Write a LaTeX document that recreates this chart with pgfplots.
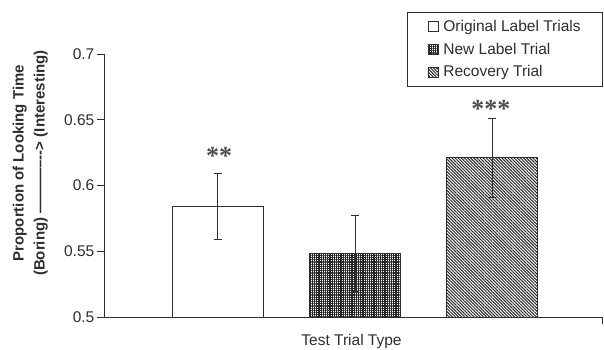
\documentclass[border=0pt]{standalone}
\usepackage{pgfplots}
\pgfplotsset{compat=1.18}
\usepackage{fontspec}
\setmainfont{Liberation Sans}
\newfontfamily\starfont{Liberation Serif}
\usetikzlibrary{patterns,patterns.meta}
\definecolor{ink}{HTML}{2E2E2E}
\begin{document}
\begin{tikzpicture}[x=1bp,y=1bp]
\path[use as bounding box] (-104bp,-33bp) rectangle (500bp,317bp);
\begin{axis}[
  scale only axis,
  width=498bp, height=263bp,
  xmin=0.17, xmax=3.80,
  ymin=0.5, ymax=0.7,
  ytick={0.5,0.55,0.6,0.65,0.7},
  yticklabels={0.5,0.55,0.6,0.65,0.7},
  xtick={3.8}, xticklabels={},
  axis x line*=bottom, axis y line*=left,
  axis line style={ink, line width=0.9bp, -},
  tick style={ink, line width=0.9bp},
  tick align=outside, major tick length=6.5bp,
  yticklabel style={font=\fontsize{15.5bp}{17bp}\selectfont, text=ink, inner xsep=3bp},
  xlabel={Test Trial Type},
  xlabel style={font=\fontsize{15.5bp}{17bp}\selectfont, text=ink, at={(axis description cs:0.497,0)}, anchor=north, yshift=-14bp},
  ylabel={\shortstack{Proportion of Looking Time\\[4bp](Boring) -----------{}-{}-> (Interesting)}},
  ylabel style={font=\bfseries\fontsize{15bp}{17bp}\selectfont, text=ink, at={(axis description cs:-0.148,0.585)}, anchor=center, rotate=0},
  ybar, bar width=91bp,
  legend style={at={(axis description cs:1.002,1.160)}, anchor=north east, draw=ink, line width=0.8bp,
     font=\fontsize{15.5bp}{17bp}\selectfont, text=ink, row sep=6bp, inner xsep=20bp, inner ysep=6bp,
     nodes={inner xsep=2bp, inner ysep=2bp}, cells={anchor=west},
     /tikz/every odd column/.append style={column sep=3bp}},
  legend image code/.code={\draw[#1, draw=ink, line width=0.8bp] (0bp,-5bp) rectangle (10bp,5bp);},
  error bars/y dir=both, error bars/y explicit,
  error bars/error bar style={ink, line width=1.1bp},
  error bars/error mark options={rotate=90, mark size=4bp, line width=1.1bp, ink},
]
\addplot[bar shift=0bp, draw=ink, line width=0.9bp, fill=white] coordinates {(1,0.584) +- (0,0.025)};
\addlegendentry{Original Label Trials}
\addplot[bar shift=0bp, draw=ink, line width=0.9bp, pattern={Hatch[distance=2.2bp, line width=1.1bp]}, pattern color=black!85] coordinates {(2,0.548) +- (0,0.029)};
\addlegendentry{New Label Trial}
\addplot[bar shift=0bp, draw=ink, line width=0.9bp, pattern={Lines[angle=-45, distance=2.2bp, line width=1bp]}, pattern color=black!85] coordinates {(3,0.621) +- (0,0.030)};
\addlegendentry{Recovery Trial}
\node[text=black!70, font=\starfont\bfseries\fontsize{26bp}{26bp}\selectfont, inner sep=0] at (axis cs:1.01,0.6225) {**};
\node[text=black!70, font=\starfont\bfseries\fontsize{26bp}{26bp}\selectfont, inner sep=0] at (axis cs:2.99,0.658) {***};
\end{axis}
\end{tikzpicture}
\end{document}
